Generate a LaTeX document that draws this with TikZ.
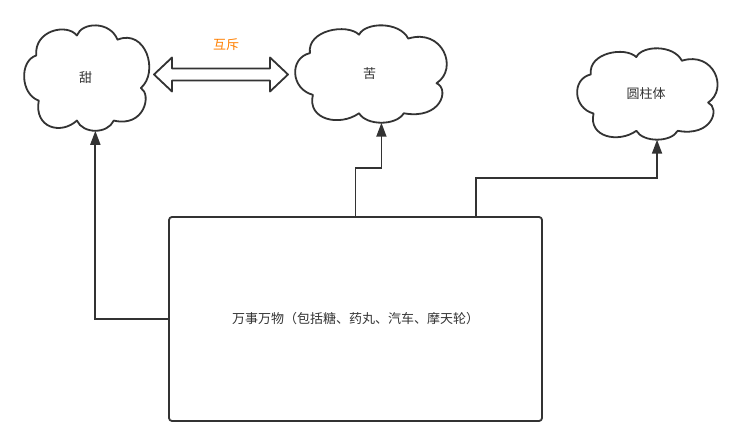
\documentclass[tikz,border=0pt]{standalone}
\usepackage{fontspec}
\setmainfont{Noto Sans CJK SC}
\usetikzlibrary{arrows.meta}
\definecolor{ink}{HTML}{333333}
\definecolor{orng}{HTML}{FF8000}
\tikzset{
  outline/.style={draw=ink, line width=1.8pt, line join=round},
  arr/.style={draw=ink, line width=1.8pt, -{Triangle[length=14pt,width=10pt]}},
  lbl/.style={font=\fontsize{13pt}{15pt}\selectfont, text=ink, inner sep=0pt},
}
\newcommand\mycloud[6]{% name, x0, y0, w, h, text
  \begin{scope}[shift={(#2pt,-#3pt)}, x=#4pt, y=-#5pt]
    \path[outline, fill=white] (0.10,0.29)
      .. controls (0.08,0.05) and (0.35,-0.02) .. (0.43,0.10)
      .. controls (0.47,-0.03) and (0.70,-0.04) .. (0.76,0.14)
      .. controls (0.99,0.03) and (1.10,0.45) .. (0.95,0.60)
      .. controls (1.04,0.66) and (0.98,0.98) .. (0.73,0.91)
      .. controls (0.68,1.04) and (0.48,1.04) .. (0.43,0.91)
      .. controls (0.30,1.05) and (0.08,0.98) .. (0.12,0.72)
      .. controls (-0.03,0.66) and (-0.04,0.34) .. cycle;
    \node[lbl] (#1) at (0.5,0.5) {#6};
    \coordinate (#1b) at (0.58,1.0075);
  \end{scope}}
\begin{document}
\begin{tikzpicture}[x=1pt,y=-1pt]
  \useasboundingbox[fill=white] (0,0) rectangle (742,446);
  \mycloud{tian}{24}{25}{123}{105}{甜}
  \mycloud{ku}{295}{25}{149}{97}{苦}
  \mycloud{yzt}{577}{48}{138}{91}{圆柱体}
  % double arrow
  \path[outline, fill=white] (154,74.5) -- (172,57.5) -- (172,68.5) -- (270,68.5)
    -- (270,57.5) -- (288,74.5) -- (270,91.5) -- (270,80.5) -- (172,80.5)
    -- (172,91.5) -- cycle;
  \node[lbl, text=orng] (mutex) at (226,45) {互斥};
  % main box
  \node[outline, rounded corners=3pt, minimum width=373pt, minimum height=204pt,
        lbl, inner sep=0pt] (main) at (355.5,319) {万事万物（包括糖、药丸、汽车、摩天轮）};
  % connectors
  \draw[arr] (main.west) -| (tianb);
  \draw[arr] (main.north) -- ++(0,-48) -| (kub);
  \draw[arr] ([xshift=120.5pt]main.north) -- ++(0,-38) -| (yztb);
\end{tikzpicture}
\end{document}
